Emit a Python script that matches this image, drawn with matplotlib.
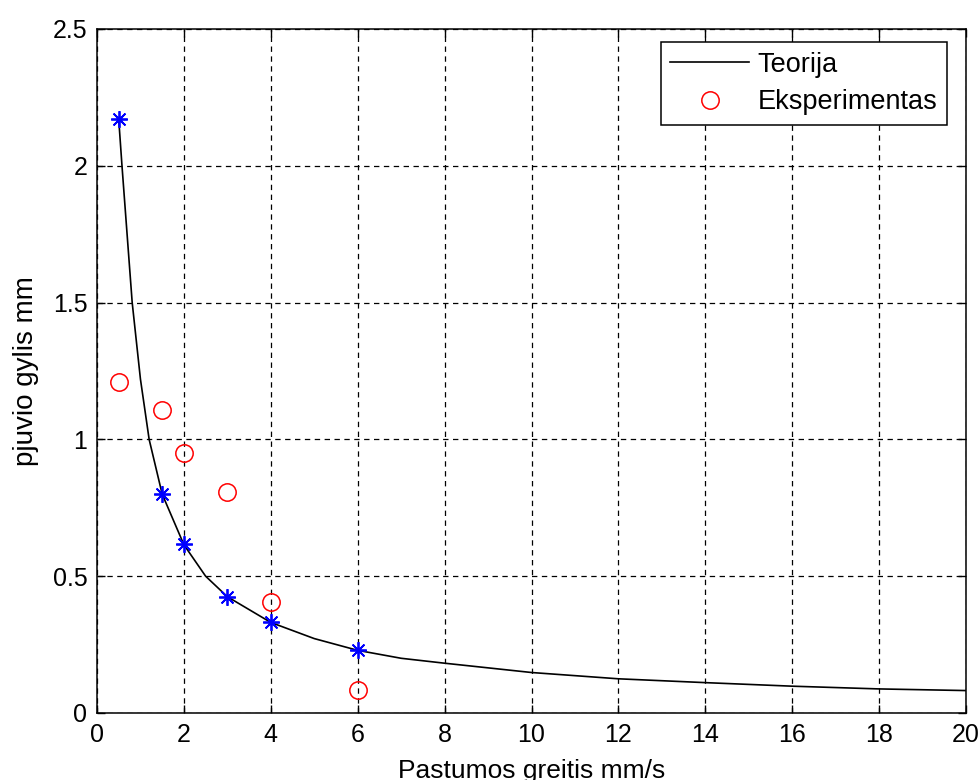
import matplotlib
matplotlib.use("Agg")
import matplotlib.pyplot as plt

plt.rcParams['font.family'] = ['Liberation Sans', 'DejaVu Sans']

# Theory curve
theory_x = [0.5, 0.575, 0.81, 1.0, 1.2, 1.5, 2.0, 2.5, 3.0, 4.0, 5.0, 6.0, 7.0, 8.0, 10.0, 12.0, 14.0, 16.0, 18.0, 20.0]
theory_y = [2.17, 2.0, 1.5, 1.22, 1.0, 0.80, 0.615, 0.50, 0.425, 0.331, 0.272, 0.229, 0.200, 0.182, 0.148, 0.125, 0.111, 0.098, 0.088, 0.082]

# Theory computed points (blue stars)
star_x = [0.5, 1.5, 2.0, 3.0, 4.0, 6.0]
star_y = [2.17, 0.80, 0.617, 0.425, 0.331, 0.230]

# Experiment (red circles)
exp_x = [0.5, 1.5, 2.0, 3.0, 4.0, 6.0]
exp_y = [1.21, 1.107, 0.949, 0.807, 0.405, 0.084]

xticks = [0, 2, 4, 6, 8, 10, 12, 14, 16, 18, 20]
yticks = [0, 0.5, 1, 1.5, 2, 2.5]
ytick_labels = ['0', '0.5', '1', '1.5', '2', '2.5']

fig = plt.figure(figsize=(9.8, 7.8), dpi=100)
ax = fig.add_axes([97/980, 1-713/780, (966-97)/980, (713-29)/780])

l1, = ax.plot(theory_x, theory_y, color='black', lw=1.2, label='Teorija')
l2, = ax.plot(exp_x, exp_y, linestyle='none', marker='o', markersize=12.5,
              markerfacecolor='none', markeredgecolor='red', markeredgewidth=1.1,
              label='Eksperimentas')
ax.plot(star_x, star_y, linestyle='none', marker=(8, 2, 0), markersize=12,
        color='blue', markeredgewidth=1.3)

ax.set_xlim(0, 20)
ax.set_ylim(0, 2.5)
ax.set_xticks(xticks)
ax.set_xticklabels([str(t) for t in xticks])
ax.set_yticks(yticks)
ax.set_yticklabels(ytick_labels)

ax.grid(True, color='black', linestyle=(0, (4.3, 3.6)), linewidth=0.9)
ax.set_axisbelow(True)

for s in ax.spines.values():
    s.set_linewidth(1.1)
ax.tick_params(direction='in', length=6, width=1.0, top=True, right=True,
               labelsize=18, pad=7)

ax.set_xlabel('Pastumos greitis mm/s', fontsize=19, labelpad=9)
ax.set_ylabel('pjuvio gylis mm', fontsize=20, labelpad=10)

leg = ax.legend(handles=[l1, l2], loc='upper right',
                bbox_to_anchor=(947/980, 1-42/780),
                bbox_transform=fig.transFigure,
                fontsize=19.5, frameon=True, fancybox=False, shadow=False,
                handlelength=2.9, handletextpad=0.32, labelspacing=0.42,
                borderpad=0.36, borderaxespad=0.0)
leg.get_frame().set_edgecolor('black')
leg.get_frame().set_linewidth(1.1)
leg.get_frame().set_alpha(1)

fig.savefig('out.png', dpi=100, facecolor='white')
